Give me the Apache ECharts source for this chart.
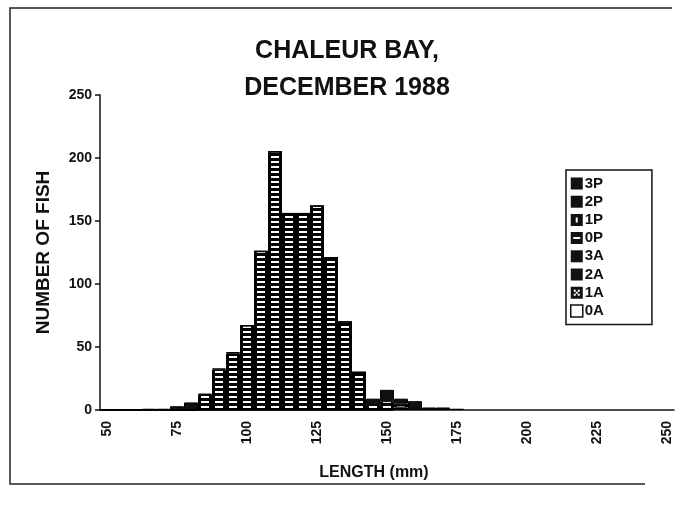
<!DOCTYPE html>
<html>
<head>
<meta charset="utf-8">
<script src="https://cdn.jsdelivr.net/npm/echarts@6/dist/echarts.min.js"></script>
<style>
  html, body { margin: 0; padding: 0; background: #fff; }
  #chart { width: 676px; height: 506px; }
</style>
</head>
<body>
<div id="chart"></div>
<script>
// length classes (mm), 5 mm bins
const lengths = ['50', '55', '60', '65', '70', '75', '80', '85', '90', '95',
  '100', '105', '110', '115', '120', '125', '130', '135', '140', '145',
  '150', '155', '160', '165', '170', '175', '180', '185', '190', '195',
  '200', '205', '210', '215', '220', '225', '230', '235', '240', '245', '250']

// number of fish per age class
const age0A = []
const age1A = [0, 0, 0, 0, 0, 0, 0, 0, 0, 0, 0, 0, 0, 0, 0, 0, 0, 0, 0, 0, 0, 2]
const age2A = []
const age3A = []
const age0P = [0, 0, 0, 0, 0, 0, 0, 12, 32, 45, 67, 126, 205, 156, 156, 162, 121, 70, 30, 4, 7, 3]
const age1P = []
const age2P = [0, 0, 0, 1, 1, 3, 6, 1, 1, 1, 0, 0, 0, 0, 0, 0, 0, 0, 0, 5, 9, 4, 7, 2, 2, 1]
const age3P = []

const yTicks = { min: 0, max: 250, interval: 50 }

const FONT = 'Liberation Sans, Arial, sans-serif'
const GRID_LEFT = 100
const BAR_W = 14

function makeTile(h, draw) {
  const c = document.createElement('canvas')
  c.width = BAR_W
  c.height = h
  const ctx = c.getContext('2d')
  ctx.fillStyle = '#000'
  ctx.fillRect(0, 0, BAR_W, h)
  ctx.fillStyle = '#fff'
  // the pattern is anchored at the canvas origin, shift it onto the bars
  const off = GRID_LEFT % BAR_W
  ;[off, off - BAR_W].forEach(dx => draw(ctx, dx))
  return { image: c, repeat: 'repeat' }
}

// white dashes on black, one column per bar
const dashFill = makeTile(5, (ctx, dx) => ctx.fillRect(dx + 3, 1, 8, 2))
const crossFill = makeTile(6, (ctx, dx) => {
  ctx.fillRect(dx + 4, 1, 2, 2)
  ctx.fillRect(dx + 8, 1, 2, 2)
  ctx.fillRect(dx + 6, 3, 2, 2)
})
const tickFill = makeTile(8, (ctx, dx) => ctx.fillRect(dx + 6, 2, 2, 4))

function bar(name, data, color) {
  return {
    name: name,
    type: 'bar',
    stack: 'fish',
    data: data,
    barCategoryGap: 0,
    itemStyle: { color: color, borderColor: '#000', borderWidth: 1 }
  }
}

const solidIcon = { color: '#111', borderWidth: 0 }

const chart = echarts.init(document.getElementById('chart'), null, { renderer: 'canvas' })

chart.setOption({
  animation: false,
  backgroundColor: '#fff',
  title: {
    text: 'CHALEUR BAY,\nDECEMBER 1988',
    left: 342,
    top: 28,
    textAlign: 'center',
    textStyle: { fontFamily: FONT, fontWeight: 'bold', fontSize: 25, lineHeight: 37, color: '#111' }
  },
  grid: { left: GRID_LEFT, top: 95, width: 41 * BAR_W, height: 315 },
  legend: {
    orient: 'vertical',
    left: 566,
    top: 170,
    itemWidth: 12,
    itemHeight: 12,
    itemGap: 3.2,
    padding: [6, 48, 6, 4],
    borderColor: '#111',
    borderWidth: 1.5,
    textStyle: { fontFamily: FONT, fontWeight: 'bold', fontSize: 15, color: '#111', padding: [0, 0, 0, -3] },
    data: [
      { name: '3P', icon: 'rect', itemStyle: solidIcon },
      { name: '2P', icon: 'rect', itemStyle: solidIcon },
      { name: '1P', icon: 'path://M0,0H12V12H0Z M5,3.5V8.5H7V3.5Z', itemStyle: solidIcon },
      { name: '0P', icon: 'path://M0,0H12V12H0Z M2.5,5V7H9.5V5Z', itemStyle: solidIcon },
      { name: '3A', icon: 'rect', itemStyle: solidIcon },
      { name: '2A', icon: 'rect', itemStyle: solidIcon },
      { name: '1A', icon: 'path://M0,0H12V12H0Z M3,3V5H5V3Z M7,3V5H9V3Z M5,5V7H7V5Z M3,7V9H5V7Z M7,7V9H9V7Z', itemStyle: solidIcon },
      { name: '0A', icon: 'rect', itemStyle: { color: '#fff', borderColor: '#111', borderWidth: 1.5 } }
    ]
  },
  xAxis: {
    type: 'category',
    data: lengths,
    name: 'LENGTH (mm)',
    nameLocation: 'middle',
    nameGap: 55,
    nameTextStyle: { fontFamily: FONT, fontWeight: 'bold', fontSize: 16, color: '#111', padding: [0, 26, 0, 0] },
    axisLine: { lineStyle: { color: '#111', width: 1.5 } },
    axisTick: { interval: 0, alignWithLabel: false, length: 5, lineStyle: { color: '#111', width: 1.5 } },
    axisLabel: { interval: 4, rotate: 90, margin: 11, fontFamily: FONT, fontWeight: 'bold', fontSize: 14, color: '#111' },
    splitLine: { show: false }
  },
  yAxis: {
    type: 'value',
    min: yTicks.min,
    max: yTicks.max,
    interval: yTicks.interval,
    name: 'NUMBER OF FISH',
    nameLocation: 'middle',
    nameGap: 47,
    nameTextStyle: { fontFamily: FONT, fontWeight: 'bold', fontSize: 19, color: '#111' },
    axisLine: { show: true, lineStyle: { color: '#111', width: 1.5 } },
    axisTick: { show: true, length: 5, lineStyle: { color: '#111', width: 1.5 } },
    axisLabel: { margin: 8, fontFamily: FONT, fontWeight: 'bold', fontSize: 14, color: '#111' },
    splitLine: { show: false }
  },
  series: [
    bar('0A', age0A, '#fff'),
    bar('1A', age1A, crossFill),
    bar('2A', age2A, '#111'),
    bar('3A', age3A, '#111'),
    bar('0P', age0P, dashFill),
    bar('1P', age1P, tickFill),
    bar('2P', age2P, '#111'),
    bar('3P', age3P, '#111')
  ],
  graphic: [
    {
      type: 'polyline',
      silent: true,
      shape: { points: [[672, 8], [10, 8], [10, 484], [645, 484]] },
      style: { stroke: '#222', lineWidth: 1.5, fill: null }
    }
  ]
})
</script>
</body>
</html>
